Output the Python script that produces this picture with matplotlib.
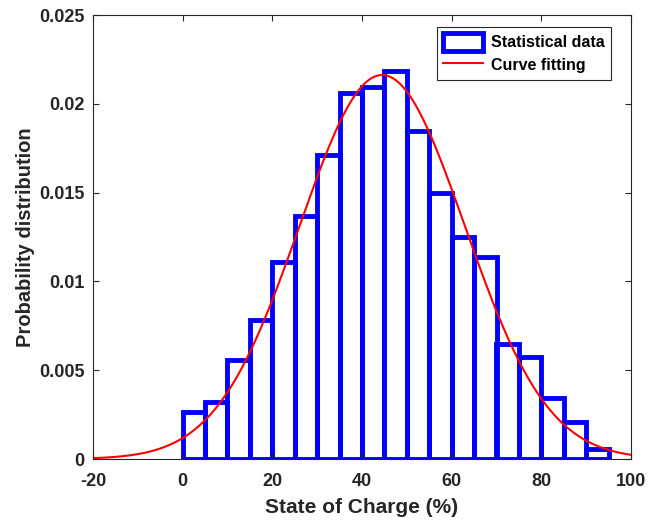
import numpy as np
import matplotlib
matplotlib.use("Agg")
import matplotlib.pyplot as plt

plt.rcParams['font.family'] = ['Liberation Sans', 'DejaVu Sans']
plt.rcParams['font.weight'] = 'bold'

# Histogram data (State of Charge bins, width 5)
bin_left = [0, 5, 10, 15, 20, 25, 30, 35, 40, 45, 50, 55, 60, 65, 70, 75, 80, 85, 90]
bin_width = 5
probability = [0.00263, 0.00319, 0.00557, 0.00783, 0.01108, 0.01368, 0.0171, 0.0206,
               0.02093, 0.02186, 0.01845, 0.01496, 0.0125, 0.01137, 0.00646, 0.00576,
               0.00345, 0.0021, 0.00056]

# Fitted normal curve parameters
fit_mean = 44.5
fit_std = 18.45

x_ticks = [-20, 0, 20, 40, 60, 80, 100]
x_tick_labels = ['-20', '0', '20', '40', '60', '80', '100']
y_ticks = [0, 0.005, 0.01, 0.015, 0.02, 0.025]
y_tick_labels = ['0', '0.005', '0.01', '0.015', '0.02', '0.025']

fig = plt.figure(figsize=(6.49, 5.22), dpi=100)
ax = fig.add_axes([93/649, 1-459/522, 538/649, 444/522])

bars = ax.bar(bin_left, probability, width=bin_width, align='edge', fill=False,
              edgecolor='#0000ff', linewidth=3.5, label='Statistical data')

xc = np.linspace(-20, 100, 400)
yc = np.exp(-0.5*((xc-fit_mean)/fit_std)**2) / (fit_std*np.sqrt(2*np.pi))
line, = ax.plot(xc, yc, color='#ff0000', linewidth=1.5, label='Curve fitting')

ax.set_xlim(-20, 100)
ax.set_ylim(0, 0.025)
ax.set_xticks(x_ticks)
ax.set_xticklabels(x_tick_labels)
ax.set_yticks(y_ticks)
ax.set_yticklabels(y_tick_labels)

axcol = '#262626'
for s in ax.spines.values():
    s.set_color(axcol)
    s.set_linewidth(0.8)
ax.tick_params(direction='in', top=True, right=True, length=4, color=axcol,
               labelsize=13, labelcolor=axcol)
ax.tick_params(axis='x', pad=10)
ax.tick_params(axis='y', pad=6)
for lab in ax.get_xticklabels() + ax.get_yticklabels():
    lab.set_fontweight('bold')

ax.set_xlabel('State of Charge (%)', fontsize=15, fontweight='bold', color=axcol, labelpad=6)
ax.set_ylabel('Probability distribution', fontsize=14.5, fontweight='bold', color=axcol, labelpad=3)

leg = ax.legend([bars, line], ['Statistical data', 'Curve fitting'],
                loc='upper right', bbox_to_anchor=(0.963, 0.973), fancybox=False,
                edgecolor=axcol, framealpha=1, prop={'weight': 'bold', 'size': 11.5},
                handlelength=2.5, handleheight=1.3, handletextpad=0.5,
                borderpad=0.4, labelspacing=0.35, borderaxespad=0)
leg.get_frame().set_linewidth(0.8)

fig.savefig('out.png', dpi=100)
